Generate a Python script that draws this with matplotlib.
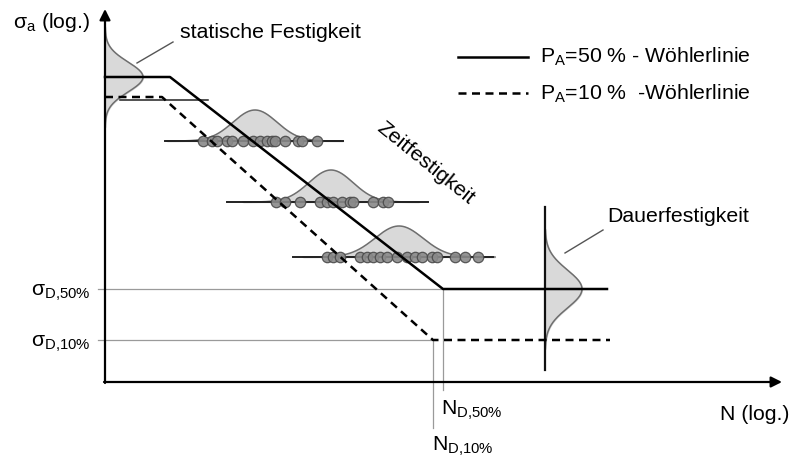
import numpy as np
import matplotlib
matplotlib.use("Agg")
import matplotlib.pyplot as plt

plt.rcParams['font.family'] = ['Liberation Sans', 'DejaVu Sans']
plt.rcParams['mathtext.fontset'] = 'custom'
plt.rcParams['mathtext.rm'] = 'Liberation Sans'
plt.rcParams['mathtext.it'] = 'Liberation Sans:italic'

# --- schematic data (pixel-like coordinate system, y grows downward) ---
# Woehler lines: knee points (x, y)
solid_x = [105, 170, 443, 607]
solid_y = [77, 77, 289, 289]
dashed_x = [105, 162, 433, 610]
dashed_y = [97, 97, 340, 340]

# scatter rows in finite-life region
row1_y = 141
row1_x = [203, 212, 217, 227, 232, 243, 253, 260, 267, 272, 275, 285, 298, 302, 317]
row2_y = 202
row2_x = [276, 285, 300, 320, 327, 333, 342, 350, 353, 373, 383, 388]
row3_y = 257
row3_x = [327, 333, 340, 360, 367, 373, 380, 387, 397, 407, 415, 422, 432, 437, 455, 465, 478]

# distributions: (center, sigma, height)
row_base = [(165, 343, row1_y), (227, 428, row2_y), (293, 493, row3_y)]
row_dist = [(255, 22, 31), (331, 22, 32), (399, 24, 31)]
static_dist = (77, 15, 38)    # vertical at x=105
dauer_dist = (289, 19, 37)    # vertical at x=545

fig = plt.figure(figsize=(7.92, 4.59), dpi=100)
ax = fig.add_axes([0, 0, 1, 1])
ax.set_xlim(0, 792)
ax.set_ylim(459, 0)
ax.axis('off')

FS = 15.3
fill_c = '#d9d9d9'
edge_c = '#6e6e6e'

def gauss(t, c, s, h):
    return h * np.exp(-0.5 * ((t - c) / s) ** 2)

# thin reference lines
ref_c = '#9a9a9a'
ax.plot([98, 443], [289, 289], color=ref_c, lw=0.9, zorder=1)
ax.plot([98, 433], [340, 340], color=ref_c, lw=0.9, zorder=1)
ax.plot([443, 443], [289, 390], color=ref_c, lw=0.9, zorder=1)
ax.plot([433, 433], [340, 428], color=ref_c, lw=0.9, zorder=1)

# static distribution (vertical on y axis)
c, s, h = static_dist
t = np.linspace(c - 50, c + 50, 200)
ax.fill_betweenx(t, 105, 105 + gauss(t, c, s, h), color=fill_c, zorder=2)
ax.plot(105 + gauss(t, c, s, h), t, color=edge_c, lw=1.1, zorder=3)
ax.plot([120, 208], [100, 100], color='#222222', lw=1.1, zorder=3)

# row distributions
for (x0, x1, yb), (c, s, h) in zip(row_base, row_dist):
    t = np.linspace(c - 4 * s, c + 4 * s, 300)
    ax.fill_between(t, yb, yb - gauss(t, c, s, h), color=fill_c, zorder=2)
    ax.plot(t, yb - gauss(t, c, s, h), color=edge_c, lw=1.1, zorder=3)
    ax.plot([x0, x1], [yb, yb], color='#222222', lw=1.4, zorder=3)

# Dauerfestigkeit distribution
c, s, h = dauer_dist
t = np.linspace(c - 60, c + 60, 300)
ax.fill_betweenx(t, 545, 545 + gauss(t, c, s, h), color=fill_c, zorder=2)
ax.plot(545 + gauss(t, c, s, h), t, color=edge_c, lw=1.1, zorder=3)
ax.plot([545, 545], [207, 370], color='#111111', lw=1.6, zorder=4)

# scatter points
for xs, yv in [(row1_x, row1_y), (row2_x, row2_y), (row3_x, row3_y)]:
    ax.plot(xs, [yv] * len(xs), 'o', ms=7.5, mfc='#8a8a8a', mec='#4a4a4a',
            mew=0.9, alpha=0.9, zorder=5, ls='none')

# Woehler lines
ax.plot(solid_x, solid_y, color='black', lw=1.8, zorder=6)
ax.plot(dashed_x, dashed_y, color='black', lw=1.8, ls=(0, (3.2, 2.2)), zorder=6)

# axes arrows
ax.annotate('', xy=(782, 382), xytext=(104, 382),
            arrowprops=dict(arrowstyle='-|>', lw=1.6, color='black',
                            mutation_scale=16, shrinkA=0, shrinkB=0), zorder=7)
ax.annotate('', xy=(105, 9), xytext=(105, 383),
            arrowprops=dict(arrowstyle='-|>', lw=1.6, color='black',
                            mutation_scale=16, shrinkA=0, shrinkB=0), zorder=7)

# leader lines
ax.plot([137, 173], [63, 42], color='#555555', lw=1.0, zorder=3)
ax.plot([565, 603], [253, 230], color='#555555', lw=1.0, zorder=3)

# legend
ax.plot([458, 528], [57, 57], color='black', lw=1.8)
ax.plot([458, 528], [93, 93], color='black', lw=1.8, ls=(0, (3.2, 2.2)))
ax.text(540, 57, 'P$_\\mathregular{A}$=50 % - Wöhlerlinie', fontsize=FS, va='center', ha='left')
ax.text(540, 94, 'P$_\\mathregular{A}$=10 %  -Wöhlerlinie', fontsize=FS, va='center', ha='left')

# texts
ax.text(13, 22, 'σ$_\\mathregular{a}$ (log.)', fontsize=FS, va='center', ha='left')
ax.text(180, 33, 'statische Festigkeit', fontsize=FS, va='center', ha='left')
ax.text(426, 163, 'Zeitfestigkeit', fontsize=FS, va='center', ha='center',
        rotation=-39, rotation_mode='anchor')
ax.text(607, 217, 'Dauerfestigkeit', fontsize=FS, va='center', ha='left')
ax.text(90, 293, 'σ$_\\mathregular{D{,}50\\%}$', fontsize=FS, va='center', ha='right')
ax.text(90, 344, 'σ$_\\mathregular{D{,}10\\%}$', fontsize=FS, va='center', ha='right')
ax.text(441, 410, 'N$_\\mathregular{D{,}50\\%}$', fontsize=FS, va='center', ha='left')
ax.text(432, 446, 'N$_\\mathregular{D{,}10\\%}$', fontsize=FS, va='center', ha='left')
ax.text(790, 414, 'N (log.)', fontsize=FS, va='center', ha='right')

fig.savefig('out.png', dpi=100)
